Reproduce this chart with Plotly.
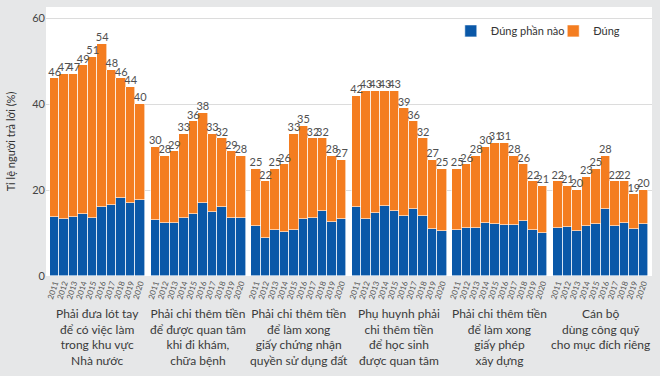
import plotly.graph_objects as go

years = ["2011", "2012", "2013", "2014", "2015", "2016", "2017", "2018", "2019", "2020"]
groups = [
    "Phải đưa lót tay<br>để có việc làm<br>trong khu vực<br>Nhà nước",
    "Phải chi thêm tiền<br>để được quan tâm<br>khi đi khám,<br>chữa bệnh",
    "Phải chi thêm tiền<br>để làm xong<br>giấy chứng nhận<br>quyền sử dụng đất",
    "Phụ huynh phải<br>chi thêm tiền<br>để học sinh<br>được quan tâm",
    "Phải chi thêm tiền<br>để làm xong<br>giấy phép<br>xây dựng",
    "Cán bộ<br>dùng công quỹ<br>cho mục đích riêng",
]
totals = [
    [46, 47, 47, 49, 51, 54, 48, 46, 44, 40],
    [30, 28, 29, 33, 36, 38, 33, 32, 29, 28],
    [25, 22, 25, 26, 33, 35, 32, 32, 28, 27],
    [42, 43, 43, 43, 43, 39, 36, 32, 27, 25],
    [25, 26, 28, 30, 31, 31, 28, 26, 22, 21],
    [22, 21, 20, 23, 25, 28, 22, 22, 19, 20],
]
partly = [
    [13.8, 13.3, 13.7, 14.5, 13.5, 16.1, 16.5, 18.1, 17.0, 17.7],
    [13.0, 12.3, 12.4, 13.5, 14.4, 17.1, 14.9, 16.0, 13.6, 13.6],
    [11.7, 8.8, 10.7, 10.3, 10.7, 13.3, 13.6, 15.1, 12.6, 13.2],
    [16.0, 13.3, 14.7, 16.2, 15.1, 14.0, 15.5, 14.0, 10.9, 10.5],
    [10.7, 11.1, 11.2, 12.3, 12.2, 11.8, 11.8, 12.7, 10.6, 9.9],
    [11.2, 11.4, 10.4, 11.6, 12.0, 15.7, 11.6, 12.3, 10.9, 12.0],
]

STEP = 10.6
xs, blue, orange, tot, ticklab = [], [], [], [], []
for g in range(len(groups)):
    for i, y in enumerate(years):
        xs.append(g * STEP + i)
        blue.append(partly[g][i])
        orange.append(totals[g][i] - partly[g][i])
        tot.append(totals[g][i])
        ticklab.append(y)

BLUE = "#0a58a8"
ORANGE = "#f47d20"
FONT = "Lato"

fig = go.Figure()
fig.add_bar(x=xs, y=blue, name="Đúng phần nào", legend="legend",
            marker=dict(color=BLUE, line=dict(color="rgba(255,255,255,0.75)", width=0.8)), width=1)
fig.add_bar(x=xs, y=orange, name="Đúng", legend="legend2",
            marker=dict(color=ORANGE, line=dict(color="rgba(255,255,255,0.75)", width=0.8)), width=1)
fig.add_scatter(x=xs, y=tot, mode="text", text=[str(t) for t in tot], textposition="top center",
                textfont=dict(family=FONT, size=11, color="#505050"), showlegend=False, cliponaxis=False, hoverinfo="skip")

for g, lab in enumerate(groups):
    fig.add_annotation(x=g * STEP + 4.5, y=-0.105, xref="x", yref="paper", text=lab, showarrow=False,
                       yanchor="top", xanchor="center", align="center",
                       font=dict(family=FONT, size=12, color="#3a3a3a"))

legend_style = dict(orientation="h", yanchor="top", y=0.965, xanchor="left",
                    bgcolor="rgba(0,0,0,0)", font=dict(size=11, color="#333333"))

fig.update_layout(
    width=660, height=376,
    margin=dict(l=46, r=8, t=7, b=100),
    barmode="stack", bargap=0,
    paper_bgcolor="#e6e7e8", plot_bgcolor="#ffffff",
    font=dict(family=FONT, color="#444444"),
    legend=dict(x=0.668, **legend_style),
    legend2=dict(x=0.837, **legend_style),
    xaxis=dict(range=[-0.92, 5 * STEP + 9.92], tickmode="array", tickvals=xs, ticktext=ticklab, automargin=False,
               tickangle=-72, tickfont=dict(size=8, color="#555555"), showgrid=False, zeroline=False, ticks=""),
    yaxis=dict(range=[0, 62.6], tickvals=[0, 20, 40, 60], gridcolor="#dcdcdc", zeroline=False, automargin=False,
               tickfont=dict(size=11, color="#444444"),
               title=dict(text="Tỉ lệ người trả lời (%)", font=dict(size=11, color="#333333"), standoff=14)),
)

fig.write_html("out.html", config={"displayModeBar": False}, post_script="document.body.style.margin='0px';")
